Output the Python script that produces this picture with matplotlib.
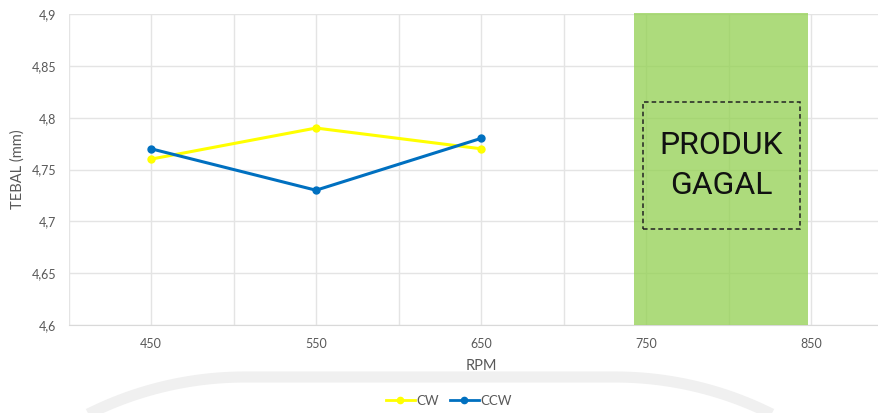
import numpy as np
import matplotlib.pyplot as plt
from matplotlib.patches import Rectangle
from matplotlib.lines import Line2D

plt.rcParams['font.family'] = ['Lato', 'DejaVu Sans']

rpm = [450, 550, 650]
cw = [4.76, 4.79, 4.77]
ccw = [4.77, 4.73, 4.78]

x_labels = [450, 550, 650, 750, 850]
y_ticks = [4.6, 4.65, 4.7, 4.75, 4.8, 4.85, 4.9]
y_labels = ["4,6", "4,65", "4,7", "4,75", "4,8", "4,85", "4,9"]

# failed-product zone and its note
fail_zone = (743, 848)
note_box = (748, 843.5, 4.693, 4.815)
note_text = "PRODUK\nGAGAL"

W, H = 879, 413
fig = plt.figure(figsize=(W / 100, H / 100), dpi=100)

# faint rounded band behind the legend (pixel coordinates)
bg = fig.add_axes([0, 0, 1, 1], zorder=0)
bg.set_xlim(0, W)
bg.set_ylim(H, 0)
bg.axis('off')
r = 350
t_left = np.linspace(np.pi * 1.25, np.pi * 1.5, 40)
t_right = np.linspace(np.pi * 1.5, np.pi * 1.75, 40)
bx = np.concatenate([245 + r * np.cos(t_left), 615 + r * np.cos(t_right)])
by = np.concatenate([377 + r + r * np.sin(t_left), 377 + r + r * np.sin(t_right)])
bg.plot(bx, by, color='#f0f0f0', lw=8, solid_capstyle='butt')

ax = fig.add_axes([68.5 / W, (H - 325) / H, (893.5 - 68.5) / W, (325 - 14) / H], zorder=1)
ax.set_facecolor('none')
ax.set_xlim(400, 900)
ax.set_ylim(4.6, 4.9)

ax.set_xticks(x_labels)
ax.set_xticks(np.arange(400, 901, 100), minor=True)
ax.set_yticks(y_ticks)
ax.set_yticklabels(y_labels)
ax.tick_params(which='both', length=0, colors='#595959', labelsize=9, pad=9)
ax.grid(which='both', color='#e4e4e4', lw=1, zorder=0)
ax.set_axisbelow(True)
for s in ['top', 'right', 'left']:
    ax.spines[s].set_visible(False)
ax.spines['bottom'].set_color('#d9d9d9')

ax.set_xlabel("RPM", fontsize=10.5, color='#595959', labelpad=7)
ax.set_ylabel("TEBAL (mm)", fontsize=10.5, color='#595959', labelpad=5)

ax.plot(rpm, cw, color='#FFFF00', lw=2.2, marker='o', ms=5, zorder=5)
ax.plot(rpm, ccw, color='#0070C0', lw=2.2, marker='o', ms=5, zorder=6)

ax.add_patch(Rectangle((fail_zone[0], 4.6), fail_zone[1] - fail_zone[0], 0.301,
                       facecolor='#92D050', edgecolor='none', alpha=0.75, zorder=3,
                       clip_on=False))
x0, x1, y0, y1 = note_box
ax.add_patch(Rectangle((x0, y0), x1 - x0, y1 - y0, fill=False, edgecolor='#222222',
                       lw=1.1, ls=(0, (3, 2)), zorder=4))
ax.text((x0 + x1) / 2, (y0 + y1) / 2, note_text, ha='center', va='center',
        fontsize=23, family='Roboto', color='#111111', linespacing=1.5, zorder=4)

handles = [Line2D([], [], color='#FFFF00', lw=2, marker='o', ms=4.5),
           Line2D([], [], color='#0070C0', lw=2, marker='o', ms=4.5)]
fig.legend(handles, ["CW", "CCW"], loc='center', bbox_to_anchor=(449 / W, 1 - 401 / H),
           ncol=2, frameon=False, fontsize=9.5, labelcolor='#595959', handlelength=2.2,
           handletextpad=0.15, columnspacing=0.8)

fig.savefig("out.png", dpi=100)
